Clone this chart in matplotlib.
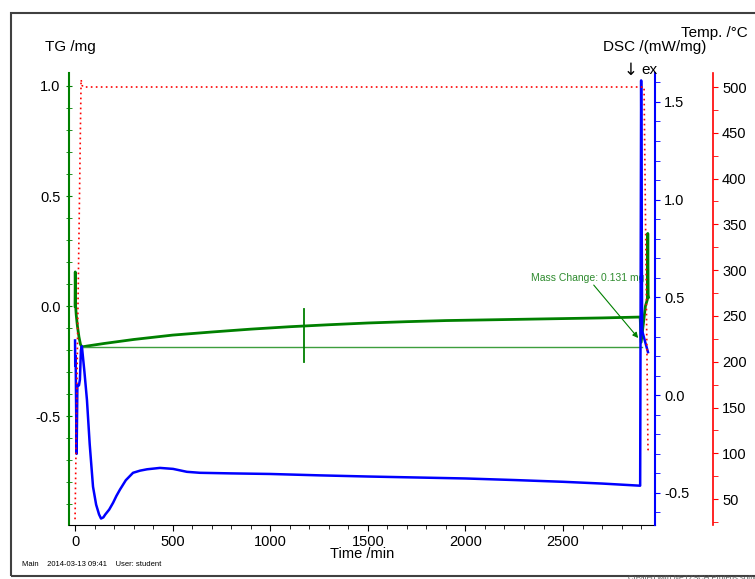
import matplotlib
matplotlib.use("Agg")
import numpy as np
from matplotlib import pyplot as plt
from matplotlib.patches import Rectangle
from matplotlib.ticker import MultipleLocator

plt.rcParams['font.family'] = ['Liberation Sans', 'DejaVu Sans']

# TG trace (mg)
tg_time = [0, 1, 3, 6, 12, 20, 28, 35, 60, 150, 300, 500, 700, 900, 1100, 1300,
           1500, 1700, 1900, 2100, 2300, 2500, 2700, 2895, 2900, 2922, 2932, 2934, 2936, 2938]
tg_mass = [0.0, 0.155, 0.0, -0.04, -0.09, -0.14, -0.175, -0.186, -0.182, -0.17, -0.152, -0.132,
           -0.118, -0.105, -0.094, -0.085, -0.077, -0.071, -0.066, -0.063, -0.06, -0.057,
           -0.054, -0.05, -0.165, 0.0, 0.03, 0.33, 0.05, 0.04]

# DSC trace (mW/mg)
dsc_time = [0, 1, 3, 6, 8, 12, 20, 25, 30, 35, 48, 61, 75, 92, 108, 123, 133, 145, 155,
            175, 195, 212, 230, 260, 297, 333, 369, 435, 502, 573, 640, 800, 1000, 1250,
            1500, 1750, 2000, 2250, 2500, 2700, 2895, 2900, 2905, 2935]
dsc_val = [0.28, 0.15, 0.2, -0.1, -0.30, 0.05, 0.05, 0.08, 0.23, 0.25, 0.12, -0.025, -0.25,
           -0.468, -0.56, -0.61, -0.631, -0.625, -0.61, -0.585, -0.55, -0.515, -0.483,
           -0.435, -0.397, -0.386, -0.379, -0.372, -0.377, -0.392, -0.397, -0.40, -0.403,
           -0.41, -0.416, -0.421, -0.426, -0.434, -0.443, -0.452, -0.463, 1.61, 0.33, 0.22]

# temperature programme (degC)
temp_time = [0, 31, 36, 41, 1000, 2000, 2915, 2935, 2940]
temp_val = [28, 508, 502, 500, 500, 500, 500, 104, 104]

# mass change evaluation
baseline_time = [35, 2905]
baseline_tg = [-0.186, -0.186]
marker_time = [1175, 1175]
marker_tg = [-0.014, -0.255]
mass_change_text = "Mass Change: 0.131 mg"

green = '#008000'
blue = '#0000ff'
red = '#ff0000'

fig = plt.figure(figsize=(7.55, 5.79), dpi=100)
ax = fig.add_axes([69/755, 1-525/579, (655-69)/755, (525-73)/579])
ax2 = ax.twinx()
ax3 = ax.twinx()

# TG
ax.plot(tg_time, tg_mass, color=green, lw=2.0)
ax.plot(baseline_time, baseline_tg, color='#3d9e3d', lw=1.0)
ax.plot(marker_time, marker_tg, color=green, lw=1.3)
ax.text(2336, 0.127, mass_change_text, color='#2e8b2e', fontsize=7.5, va='center')
ax.annotate("", xy=(2894, -0.155), xytext=(2648, 0.105),
            arrowprops=dict(arrowstyle='-|>', color=green, lw=0.8, mutation_scale=8))
ax.set_xlim(-31, 2971)
ax.set_ylim(-0.995, 1.059)
ax.xaxis.set_major_locator(MultipleLocator(500))
ax.xaxis.set_minor_locator(MultipleLocator(100))
ax.yaxis.set_major_locator(MultipleLocator(0.5))
ax.yaxis.set_minor_locator(MultipleLocator(0.1))
ax.yaxis.set_major_formatter(lambda v, p: '%.1f' % v)
ax.tick_params(axis='x', which='both', direction='out', labelsize=10.5, pad=3)
ax.tick_params(axis='x', which='major', length=4)
ax.tick_params(axis='x', which='minor', length=3)
ax.tick_params(axis='y', which='both', direction='inout', length=4, color=green,
               labelsize=10.5, pad=4)
ax.spines['top'].set_visible(False)
ax.spines['right'].set_visible(False)
ax.spines['left'].set_color(green)
ax.spines['left'].set_linewidth(1.5)
ax.set_xlabel('Time /min', fontsize=10.5, labelpad=-1)

# DSC
ax2.plot(dsc_time, dsc_val, color=blue, lw=1.8)
ax2.set_ylim(-0.664, 1.648)
ax2.yaxis.set_major_locator(MultipleLocator(0.5))
ax2.yaxis.set_minor_locator(MultipleLocator(0.1))
ax2.yaxis.set_major_formatter(lambda v, p: '%.1f' % v)
ax2.tick_params(axis='y', which='both', direction='out', length=3.5, color=blue,
                labelsize=10.5, pad=3)
for s in ['top', 'left', 'bottom']:
    ax2.spines[s].set_visible(False)
ax2.spines['right'].set_color(blue)
ax2.spines['right'].set_linewidth(1.5)

# Temperature
ax3.plot(temp_time, temp_val, color=red, lw=1.2, ls=(0, (1, 2)))
ax3.set_ylim(21.7, 515.3)
ax3.yaxis.set_major_locator(MultipleLocator(50))
ax3.yaxis.set_minor_locator(MultipleLocator(25))
ax3.tick_params(axis='y', which='both', direction='out', length=3.5, color=red,
                labelsize=10.5, pad=3)
for s in ['top', 'left', 'bottom']:
    ax3.spines[s].set_visible(False)
ax3.spines['right'].set_position(('axes', (713-69)/(655-69)))
ax3.spines['right'].set_color(red)
ax3.spines['right'].set_linewidth(1.2)

# labels
fig.text(45/755, 1-47/579, 'TG /mg', fontsize=11, va='center', ha='left')
fig.text(706/755, 1-47/579, 'DSC /(mW/mg)', fontsize=11, va='center', ha='right')
fig.text(748/755, 1-33/579, 'Temp. /°C', fontsize=11, va='center', ha='right')
fig.text(624/755, 1-70/579, '↓', fontsize=12, va='center', ha='left',
         family=['DejaVu Sans'])
fig.text(641/755, 1-70/579, 'ex', fontsize=11, va='center', ha='left')
fig.text(22/755, 1-565/579, 'Main    2014-03-13 09:41    User: student', fontsize=5.5,
         va='center', ha='left')
fig.text(628/755, 1-578/579, 'Created with NETZSCH Proteus software', fontsize=5.5,
         va='center', ha='left', color='#555555')

fig.patches.append(Rectangle((11/755, 1-576/579), 1.0, (576-13)/579,
                             transform=fig.transFigure, fill=False,
                             edgecolor='#404040', lw=1.5))

fig.savefig('out.png', dpi=100)
